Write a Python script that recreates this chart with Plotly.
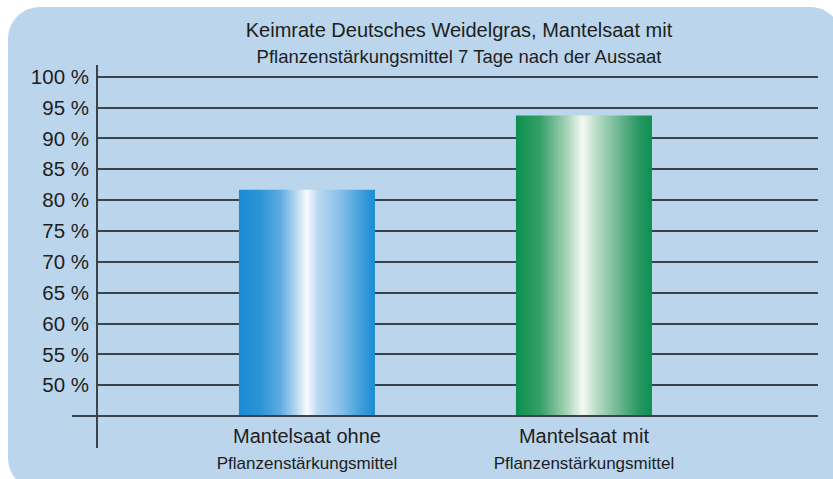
import plotly.graph_objects as go

# ---- data ----
categories = ["Mantelsaat ohne Pflanzenstärkungsmittel", "Mantelsaat mit Pflanzenstärkungsmittel"]
cat_line1 = ["Mantelsaat ohne", "Mantelsaat mit"]
cat_line2 = ["Pflanzenstärkungsmittel", "Pflanzenstärkungsmittel"]
values = [81.7, 93.7]
y_ticks = [50, 55, 60, 65, 70, 75, 80, 85, 90, 95, 100]
y_tick_labels = [f"{v} %" for v in y_ticks]
title_line1 = "Keimrate Deutsches Weidelgras, Mantelsaat mit"
title_line2 = "Pflanzenstärkungsmittel 7 Tage nach der Aussaat"

# ---- style ----
W, H = 833, 479
ML, MR, MT, MB = 97, 15, 65, 62
PW, PH = W - ML - MR, H - MT - MB
BASE = 45
Y_RANGE = [44.85, 101.9]
X_RANGE = [-0.758, 1.845]
BAR_W = 0.491
PANEL = "#bad5ec"
LINE = "#3a424b"
TXT = "#1e1e1e"
FONT = "Liberation Sans, Arial, sans-serif"
NARROW = "Liberation Sans Narrow, Liberation Sans, sans-serif"

grad_blue = [[0.0, "#1a8cd3"], [0.15, "#2a94d6"], [0.3, "#5aaade"], [0.42, "#b6d7f0"],
             [0.5, "#f8fbfe"], [0.58, "#bcd9f0"], [0.75, "#86bfe7"], [0.9, "#3f9fda"], [1.0, "#1a8cd3"]]
grad_green = [[0.0, "#0c8f50"], [0.18, "#36a068"], [0.36, "#9fcfb2"], [0.49, "#f2f9f2"],
              [0.6, "#b5dac3"], [0.76, "#6bb690"], [0.9, "#2a9862"], [1.0, "#0c8f52"]]
grads = [grad_blue, grad_green]

fig = go.Figure()
xpos = list(range(len(categories)))
for i, (xc, v) in enumerate(zip(xpos, values)):
    x0, x1 = xc - BAR_W / 2, xc + BAR_W / 2
    fig.add_trace(go.Scatter(
        x=[x0, x1, x1, x0, x0], y=[BASE, BASE, v, v, BASE],
        fill="toself", mode="lines", line=dict(width=0),
        fillgradient=dict(type="horizontal", colorscale=grads[i]),
        hoverinfo="skip", showlegend=False, name=categories[i]))

def X(px):
    return (px - ML) / PW

def Y(py):
    return (MT + PH - py) / PH

# rounded panel
l, r, t, b, rad = 8, 842, 7, 490, 32
k = 0.5523 * rad
pts = [
    ("M", [(l + rad, t)]),
    ("L", [(r - rad, t)]),
    ("C", [(r - rad + k, t), (r, t + rad - k), (r, t + rad)]),
    ("L", [(r, b - rad)]),
    ("C", [(r, b - rad + k), (r - rad + k, b), (r - rad, b)]),
    ("L", [(l + rad, b)]),
    ("C", [(l + rad - k, b), (l, b - rad + k), (l, b - rad)]),
    ("L", [(l, t + rad)]),
    ("C", [(l, t + rad - k), (l + rad - k, t), (l + rad, t)]),
]
path = " ".join(cmd + " " + " ".join(f"{X(px):.5f},{Y(py):.5f}" for px, py in p) for cmd, p in pts) + " Z"

shapes = [
    dict(type="path", path=path, xref="paper", yref="paper", fillcolor=PANEL,
         line=dict(width=0), layer="below"),
    dict(type="line", xref="paper", yref="y", x0=X(72), x1=1, y0=BASE, y1=BASE,
         line=dict(color=LINE, width=2), layer="above"),
    dict(type="line", xref="paper", yref="paper", x0=0, x1=0, y0=Y(448), y1=1,
         line=dict(color=LINE, width=2), layer="above"),
]

tick_text = [f"{a}<br><span style='font-family:{NARROW};font-size:17px'>{b2}</span>"
             for a, b2 in zip(cat_line1, cat_line2)]

fig.update_layout(
    width=W, height=H,
    margin=dict(l=ML, r=MR, t=MT, b=MB, pad=0, autoexpand=False),
    paper_bgcolor="white", plot_bgcolor="rgba(0,0,0,0)",
    font=dict(family=FONT, size=18, color=TXT),
    shapes=shapes,
    title=dict(
        text=f"{title_line1}<br><span style='font-family:{NARROW};font-size:18.5px'>{title_line2}</span>",
        x=X(459), xref="paper", xanchor="center",
        y=1 - 37 / H, yref="container", yanchor="top",
        font=dict(family=FONT, size=20, color=TXT)),
    xaxis=dict(range=X_RANGE, tickvals=xpos, ticktext=tick_text, showgrid=False,
               zeroline=False, showline=False, ticks="", fixedrange=True,
               automargin=False, ticklabelstandoff=5,
               tickfont=dict(size=20, color=TXT)),
    yaxis=dict(range=Y_RANGE, tickvals=y_ticks, ticktext=y_tick_labels, showgrid=True,
               gridcolor=LINE, gridwidth=2, zeroline=False, showline=False, ticks="",
               fixedrange=True, automargin=False, ticklabelstandoff=7,
               tickfont=dict(size=20.5, color=TXT)),
)

fig.write_html("out.html", config=dict(displayModeBar=False),
               post_script="document.body.style.margin='0';document.body.style.overflow='hidden';")
